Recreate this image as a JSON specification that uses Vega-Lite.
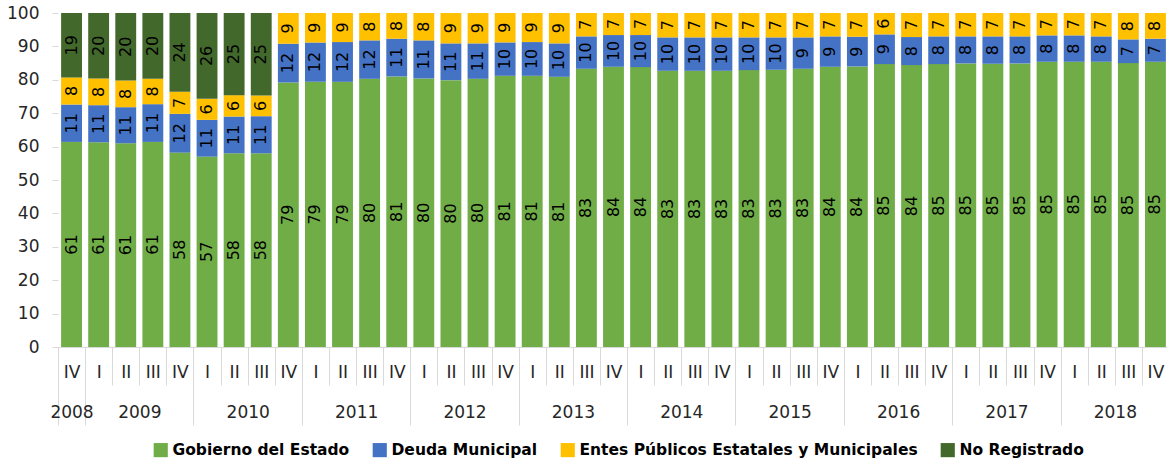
{
  "$schema": "https://vega.github.io/schema/vega-lite/v6.json",
  "width": 1111,
  "height": 334,
  "autosize": {"type": "none"},
  "padding": {"left": 58, "top": 13, "right": 0, "bottom": 112},
  "background": "white",
  "config": {"view": {"stroke": null}, "font": "DejaVu Sans"},
  "data": {"values": [
    {"periodo": "2008-IV", "Gobierno del Estado": 61.4, "Deuda Municipal": 11.2, "Entes Públicos Estatales y Municipales": 8.1, "No Registrado": 19.3},
    {"periodo": "2009-I", "Gobierno del Estado": 61.3, "Deuda Municipal": 11.1, "Entes Públicos Estatales y Municipales": 8.0, "No Registrado": 19.6},
    {"periodo": "2009-II", "Gobierno del Estado": 61.0, "Deuda Municipal": 10.8, "Entes Públicos Estatales y Municipales": 8.0, "No Registrado": 20.2},
    {"periodo": "2009-III", "Gobierno del Estado": 61.4, "Deuda Municipal": 11.3, "Entes Públicos Estatales y Municipales": 7.6, "No Registrado": 19.7},
    {"periodo": "2009-IV", "Gobierno del Estado": 58.2, "Deuda Municipal": 11.6, "Entes Públicos Estatales y Municipales": 6.6, "No Registrado": 23.6},
    {"periodo": "2010-I", "Gobierno del Estado": 57.0, "Deuda Municipal": 11.0, "Entes Públicos Estatales y Municipales": 6.3, "No Registrado": 25.7},
    {"periodo": "2010-II", "Gobierno del Estado": 58.0, "Deuda Municipal": 11.0, "Entes Públicos Estatales y Municipales": 6.4, "No Registrado": 24.6},
    {"periodo": "2010-III", "Gobierno del Estado": 58.0, "Deuda Municipal": 11.1, "Entes Públicos Estatales y Municipales": 6.2, "No Registrado": 24.7},
    {"periodo": "2010-IV", "Gobierno del Estado": 79.2, "Deuda Municipal": 11.6, "Entes Públicos Estatales y Municipales": 9.2},
    {"periodo": "2011-I", "Gobierno del Estado": 79.4, "Deuda Municipal": 11.8, "Entes Públicos Estatales y Municipales": 8.8},
    {"periodo": "2011-II", "Gobierno del Estado": 79.4, "Deuda Municipal": 11.9, "Entes Públicos Estatales y Municipales": 8.7},
    {"periodo": "2011-III", "Gobierno del Estado": 80.3, "Deuda Municipal": 11.5, "Entes Públicos Estatales y Municipales": 8.2},
    {"periodo": "2011-IV", "Gobierno del Estado": 81.0, "Deuda Municipal": 11.3, "Entes Públicos Estatales y Municipales": 7.7},
    {"periodo": "2012-I", "Gobierno del Estado": 80.4, "Deuda Municipal": 11.4, "Entes Públicos Estatales y Municipales": 8.2},
    {"periodo": "2012-II", "Gobierno del Estado": 79.9, "Deuda Municipal": 11.0, "Entes Públicos Estatales y Municipales": 9.1},
    {"periodo": "2012-III", "Gobierno del Estado": 80.3, "Deuda Municipal": 10.6, "Entes Públicos Estatales y Municipales": 9.1},
    {"periodo": "2012-IV", "Gobierno del Estado": 81.2, "Deuda Municipal": 10.0, "Entes Públicos Estatales y Municipales": 8.8},
    {"periodo": "2013-I", "Gobierno del Estado": 81.2, "Deuda Municipal": 10.1, "Entes Públicos Estatales y Municipales": 8.7},
    {"periodo": "2013-II", "Gobierno del Estado": 80.9, "Deuda Municipal": 10.0, "Entes Públicos Estatales y Municipales": 9.1},
    {"periodo": "2013-III", "Gobierno del Estado": 83.3, "Deuda Municipal": 9.7, "Entes Públicos Estatales y Municipales": 7.0},
    {"periodo": "2013-IV", "Gobierno del Estado": 83.9, "Deuda Municipal": 9.5, "Entes Públicos Estatales y Municipales": 6.6},
    {"periodo": "2014-I", "Gobierno del Estado": 83.8, "Deuda Municipal": 9.6, "Entes Públicos Estatales y Municipales": 6.6},
    {"periodo": "2014-II", "Gobierno del Estado": 82.7, "Deuda Municipal": 10.0, "Entes Públicos Estatales y Municipales": 7.3},
    {"periodo": "2014-III", "Gobierno del Estado": 82.7, "Deuda Municipal": 10.0, "Entes Públicos Estatales y Municipales": 7.3},
    {"periodo": "2014-IV", "Gobierno del Estado": 82.7, "Deuda Municipal": 10.0, "Entes Públicos Estatales y Municipales": 7.3},
    {"periodo": "2015-I", "Gobierno del Estado": 82.9, "Deuda Municipal": 9.8, "Entes Públicos Estatales y Municipales": 7.3},
    {"periodo": "2015-II", "Gobierno del Estado": 83.0, "Deuda Municipal": 9.7, "Entes Públicos Estatales y Municipales": 7.3},
    {"periodo": "2015-III", "Gobierno del Estado": 83.3, "Deuda Municipal": 9.4, "Entes Públicos Estatales y Municipales": 7.3},
    {"periodo": "2015-IV", "Gobierno del Estado": 83.9, "Deuda Municipal": 9.1, "Entes Públicos Estatales y Municipales": 7.0},
    {"periodo": "2016-I", "Gobierno del Estado": 84.0, "Deuda Municipal": 8.9, "Entes Públicos Estatales y Municipales": 7.1},
    {"periodo": "2016-II", "Gobierno del Estado": 84.7, "Deuda Municipal": 8.9, "Entes Públicos Estatales y Municipales": 6.4},
    {"periodo": "2016-III", "Gobierno del Estado": 84.4, "Deuda Municipal": 8.4, "Entes Públicos Estatales y Municipales": 7.2},
    {"periodo": "2016-IV", "Gobierno del Estado": 84.7, "Deuda Municipal": 8.3, "Entes Públicos Estatales y Municipales": 7.0},
    {"periodo": "2017-I", "Gobierno del Estado": 84.9, "Deuda Municipal": 8.1, "Entes Públicos Estatales y Municipales": 7.0},
    {"periodo": "2017-II", "Gobierno del Estado": 84.8, "Deuda Municipal": 8.2, "Entes Públicos Estatales y Municipales": 7.0},
    {"periodo": "2017-III", "Gobierno del Estado": 84.9, "Deuda Municipal": 8.1, "Entes Públicos Estatales y Municipales": 7.0},
    {"periodo": "2017-IV", "Gobierno del Estado": 85.4, "Deuda Municipal": 7.9, "Entes Públicos Estatales y Municipales": 6.7},
    {"periodo": "2018-I", "Gobierno del Estado": 85.4, "Deuda Municipal": 7.9, "Entes Públicos Estatales y Municipales": 6.7},
    {"periodo": "2018-II", "Gobierno del Estado": 85.4, "Deuda Municipal": 7.6, "Entes Públicos Estatales y Municipales": 7.0},
    {"periodo": "2018-III", "Gobierno del Estado": 85.0, "Deuda Municipal": 7.1, "Entes Públicos Estatales y Municipales": 7.9},
    {"periodo": "2018-IV", "Gobierno del Estado": 85.4, "Deuda Municipal": 6.9, "Entes Públicos Estatales y Municipales": 7.7}
  ]},
  "transform": [
    {"fold": ["Gobierno del Estado", "Deuda Municipal", "Entes Públicos Estatales y Municipales", "No Registrado"], "as": ["serie", "valor"]},
    {"filter": "isValid(datum.valor)"},
    {"calculate": "indexof(['Gobierno del Estado','Deuda Municipal','Entes Públicos Estatales y Municipales','No Registrado'], datum.serie)", "as": "k"},
    {"stack": "valor", "groupby": ["periodo"], "sort": [{"field": "k", "order": "ascending"}], "as": ["y0", "y1"]},
    {"calculate": "(datum.y0 + datum.y1) / 2", "as": "ym"}
  ],
  "layer": [
    {
      "mark": {"type": "bar", "width": {"band": 0.77}},
      "encoding": {
        "x": {
          "field": "periodo", "type": "nominal",
          "scale": {"paddingInner": 0, "paddingOuter": 0},
          "axis": {
            "orient": "bottom", "title": null,
            "labelExpr": "split(datum.label, '-')[1]",
            "labelAngle": 0, "labelFontSize": 17, "labelColor": "#262626",
            "labelOverlap": false, "labelPadding": -21,
            "tickBand": "extent", "tickSize": 38, "tickColor": "#d9d9d9",
            "domainColor": "#d9d9d9"
          }
        },
        "y": {
          "field": "y1", "type": "quantitative",
          "scale": {"domain": [0, 100], "nice": false},
          "axis": {
            "title": null, "values": [0, 10, 20, 30, 40, 50, 60, 70, 80, 90, 100],
            "domain": false, "grid": false, "tickSize": 6, "tickColor": "#d9d9d9",
            "labelFontSize": 17, "labelColor": "#262626", "labelPadding": 13
          }
        },
        "y2": {"field": "y0"},
        "color": {
          "field": "serie", "type": "nominal",
          "scale": {
            "domain": ["Gobierno del Estado", "Deuda Municipal", "Entes Públicos Estatales y Municipales", "No Registrado"],
            "range": ["#70AD47", "#4472C4", "#FFC000", "#43682B"]
          },
          "legend": {
            "orient": "none", "legendX": 95, "legendY": 429, "padding": 0,
            "direction": "horizontal", "title": null,
            "symbolType": "square", "symbolSize": 200, "symbolStrokeWidth": 0,
            "labelFontSize": 15.5, "labelFontWeight": "bold", "labelColor": "#000000",
            "columnPadding": 22, "labelLimit": 500
          }
        }
      }
    },
    {
      "mark": {"type": "text", "angle": 270, "fontSize": 16, "color": "#000000"},
      "encoding": {
        "x": {
          "field": "periodo", "type": "nominal",
          "axis": {
            "orient": "bottom", "title": null,
            "values": ["2008-IV", "2009-IV", "2010-IV", "2011-IV", "2012-IV", "2013-IV", "2014-IV", "2015-IV", "2016-IV", "2017-IV", "2018-IV"],
            "labelExpr": "split(datum.label, '-')[0]",
            "labelAngle": 0, "labelFontSize": 17, "labelColor": "#262626",
            "labelOverlap": false, "labelPadding": -21,
            "labelOffset": {"condition": {"test": "datum.value === '2008-IV'", "value": 0}, "value": -40.6},
            "tickBand": "extent", "tickSize": 78, "tickColor": "#d9d9d9",
            "domain": false
          }
        },
        "y": {
          "field": "ym", "type": "quantitative",
          "axis": {
            "title": null, "values": [0, 10, 20, 30, 40, 50, 60, 70, 80, 90, 100],
            "domain": false, "grid": false, "tickSize": 6, "tickColor": "#d9d9d9",
            "labelFontSize": 17, "labelColor": "#262626", "labelPadding": 13
          }
        },
        "text": {"field": "valor", "type": "quantitative", "format": ".0f"}
      }
    }
  ],
  "resolve": {"axis": {"x": "independent"}}
}
